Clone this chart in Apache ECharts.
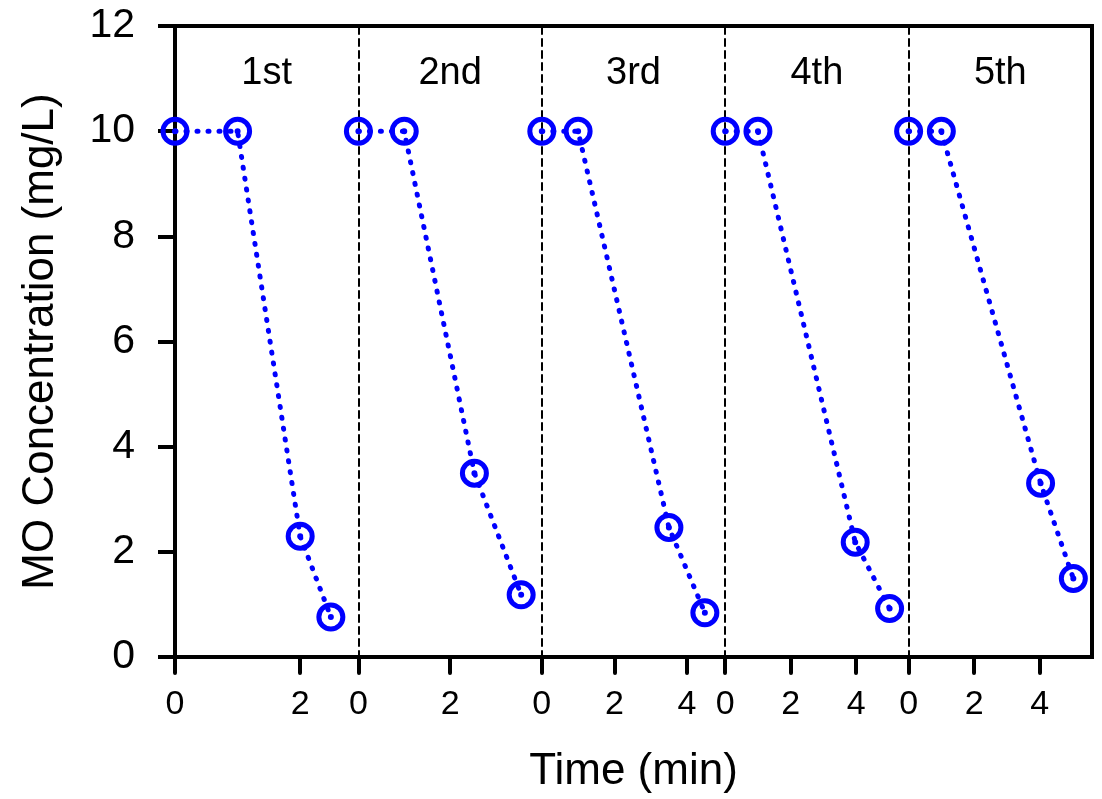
<!DOCTYPE html>
<html><head><meta charset="utf-8">
<script src="https://cdn.jsdelivr.net/npm/echarts@6/dist/echarts.min.js"></script>
<style>html,body{margin:0;padding:0;background:#fff}#c{width:1102px;height:799px}</style>
</head><body><div id="c"></div>
<script>
// ---- data ----
const runLabels = ['1st', '2nd', '3rd', '4th', '5th'];
const time1 = [0, 1, 2, 2.49];    const conc1 = [10, 10, 2.31, 0.78];
const time2 = [0, 1, 2.53, 3.55]; const conc2 = [10, 10, 3.51, 1.2];
const time3 = [0, 1, 3.5, 4.49];  const conc3 = [10, 10, 2.48, 0.86];
const time4 = [0, 1, 3.97, 5.02]; const conc4 = [10, 10, 2.2, 0.94];
const time5 = [0, 1, 4.03, 5.03]; const conc5 = [10, 10, 3.32, 1.51];
const xTicks1 = [0, 2];
const xTicks2 = [0, 2];
const xTicks3 = [0, 2, 4];
const xTicks4 = [0, 2, 4];
const xTicks5 = [0, 2, 4];
const xMax = [2.93, 4, 5.05, 5.6, 5.6];
const yMin = 0, yMax = 12, yStep = 2;

const times = [time1, time2, time3, time4, time5];
const concs = [conc1, conc2, conc3, conc4, conc5];
const xTicks = [xTicks1, xTicks2, xTicks3, xTicks4, xTicks5];

// ---- layout ----
const FONT = "'Liberation Sans', Arial, sans-serif";
const L = 175, R = 1092, T = 26, B = 658;
const W = 1102, H = 799;
const segW = (R - L) / 5;
const BLUE = '#0000ff';
const ringDot = 'path://M0 14.5A14.5 14.5 0 1 0 29 14.5A14.5 14.5 0 1 0 0 14.5Z' +
  'M5 14.5A9.5 9.5 0 1 1 24 14.5A9.5 9.5 0 1 1 5 14.5Z' +
  'M11.5 14.5A3 3 0 1 0 17.5 14.5A3 3 0 1 0 11.5 14.5Z';

const grid = [{ left: L, top: T, width: R - L, height: B - T, show: true,
  borderColor: '#000', borderWidth: 4, backgroundColor: 'transparent' }];
const xAxis = [{ gridIndex: 0, type: 'value', min: 0, max: 1,
  axisLine: { show: false }, axisTick: { show: false }, axisLabel: { show: false },
  splitLine: { show: false },
  name: 'Time (min)', nameLocation: 'middle', nameGap: 93,
  nameTextStyle: { fontSize: 44, fontFamily: FONT, color: '#000' } }];
const yAxis = [{ gridIndex: 0, type: 'value', min: yMin, max: yMax, interval: yStep,
  axisLine: { show: false },
  axisTick: { show: true, length: 17, lineStyle: { color: '#000', width: 4 } },
  axisLabel: { fontSize: 41, fontFamily: FONT, color: '#000', margin: 40 },
  splitLine: { show: false },
  name: 'MO Concentration (mg/L)', nameLocation: 'middle', nameGap: 112,
  nameTextStyle: { fontSize: 44, fontFamily: FONT, color: '#000' } }];
const series = [];
const graphic = [];

for (let i = 0; i < 5; i++) {
  const gi = i + 1;
  grid.push({ left: L + segW * i, top: T, width: segW, height: B - T });
  xAxis.push({ gridIndex: gi, type: 'value', min: 0, max: xMax[i],
    axisLine: { show: false },
    axisTick: { show: true, customValues: xTicks[i], length: 15,
      lineStyle: { color: '#000', width: 4, cap: 'round' } },
    axisLabel: { show: true, customValues: xTicks[i], fontSize: 34, fontFamily: FONT,
      color: '#000', margin: 30 },
    splitLine: { show: false } });
  yAxis.push({ gridIndex: gi, type: 'value', min: yMin, max: yMax,
    axisLine: { show: i > 0, onZero: false, lineStyle: { color: '#000', width: 2, type: [7, 5] } },
    axisTick: { show: false }, axisLabel: { show: false }, splitLine: { show: false } });
  series.push({ type: 'line', xAxisIndex: gi, yAxisIndex: gi, clip: false, z: 5,
    data: times[i].map((t, k) => [t, concs[i][k]]),
    symbol: ringDot, symbolSize: 29, symbolKeepAspect: true,
    itemStyle: { color: BLUE, borderWidth: 0 },
    lineStyle: { color: BLUE, width: 5, type: [1, 10], cap: 'round' } });
  graphic.push({ type: 'text', x: L + segW * (i + 0.5), y: 73.5, silent: true,
    style: { text: runLabels[i], fontSize: 38, fontFamily: FONT, fill: '#000',
      align: 'center', verticalAlign: 'middle', textAlign: 'center', textVerticalAlign: 'middle' } });
}

const chart = echarts.init(document.getElementById('c'), null, { renderer: 'canvas' });
chart.setOption({ animation: false, backgroundColor: '#fff', grid, xAxis, yAxis, series, graphic });
</script></body></html>
